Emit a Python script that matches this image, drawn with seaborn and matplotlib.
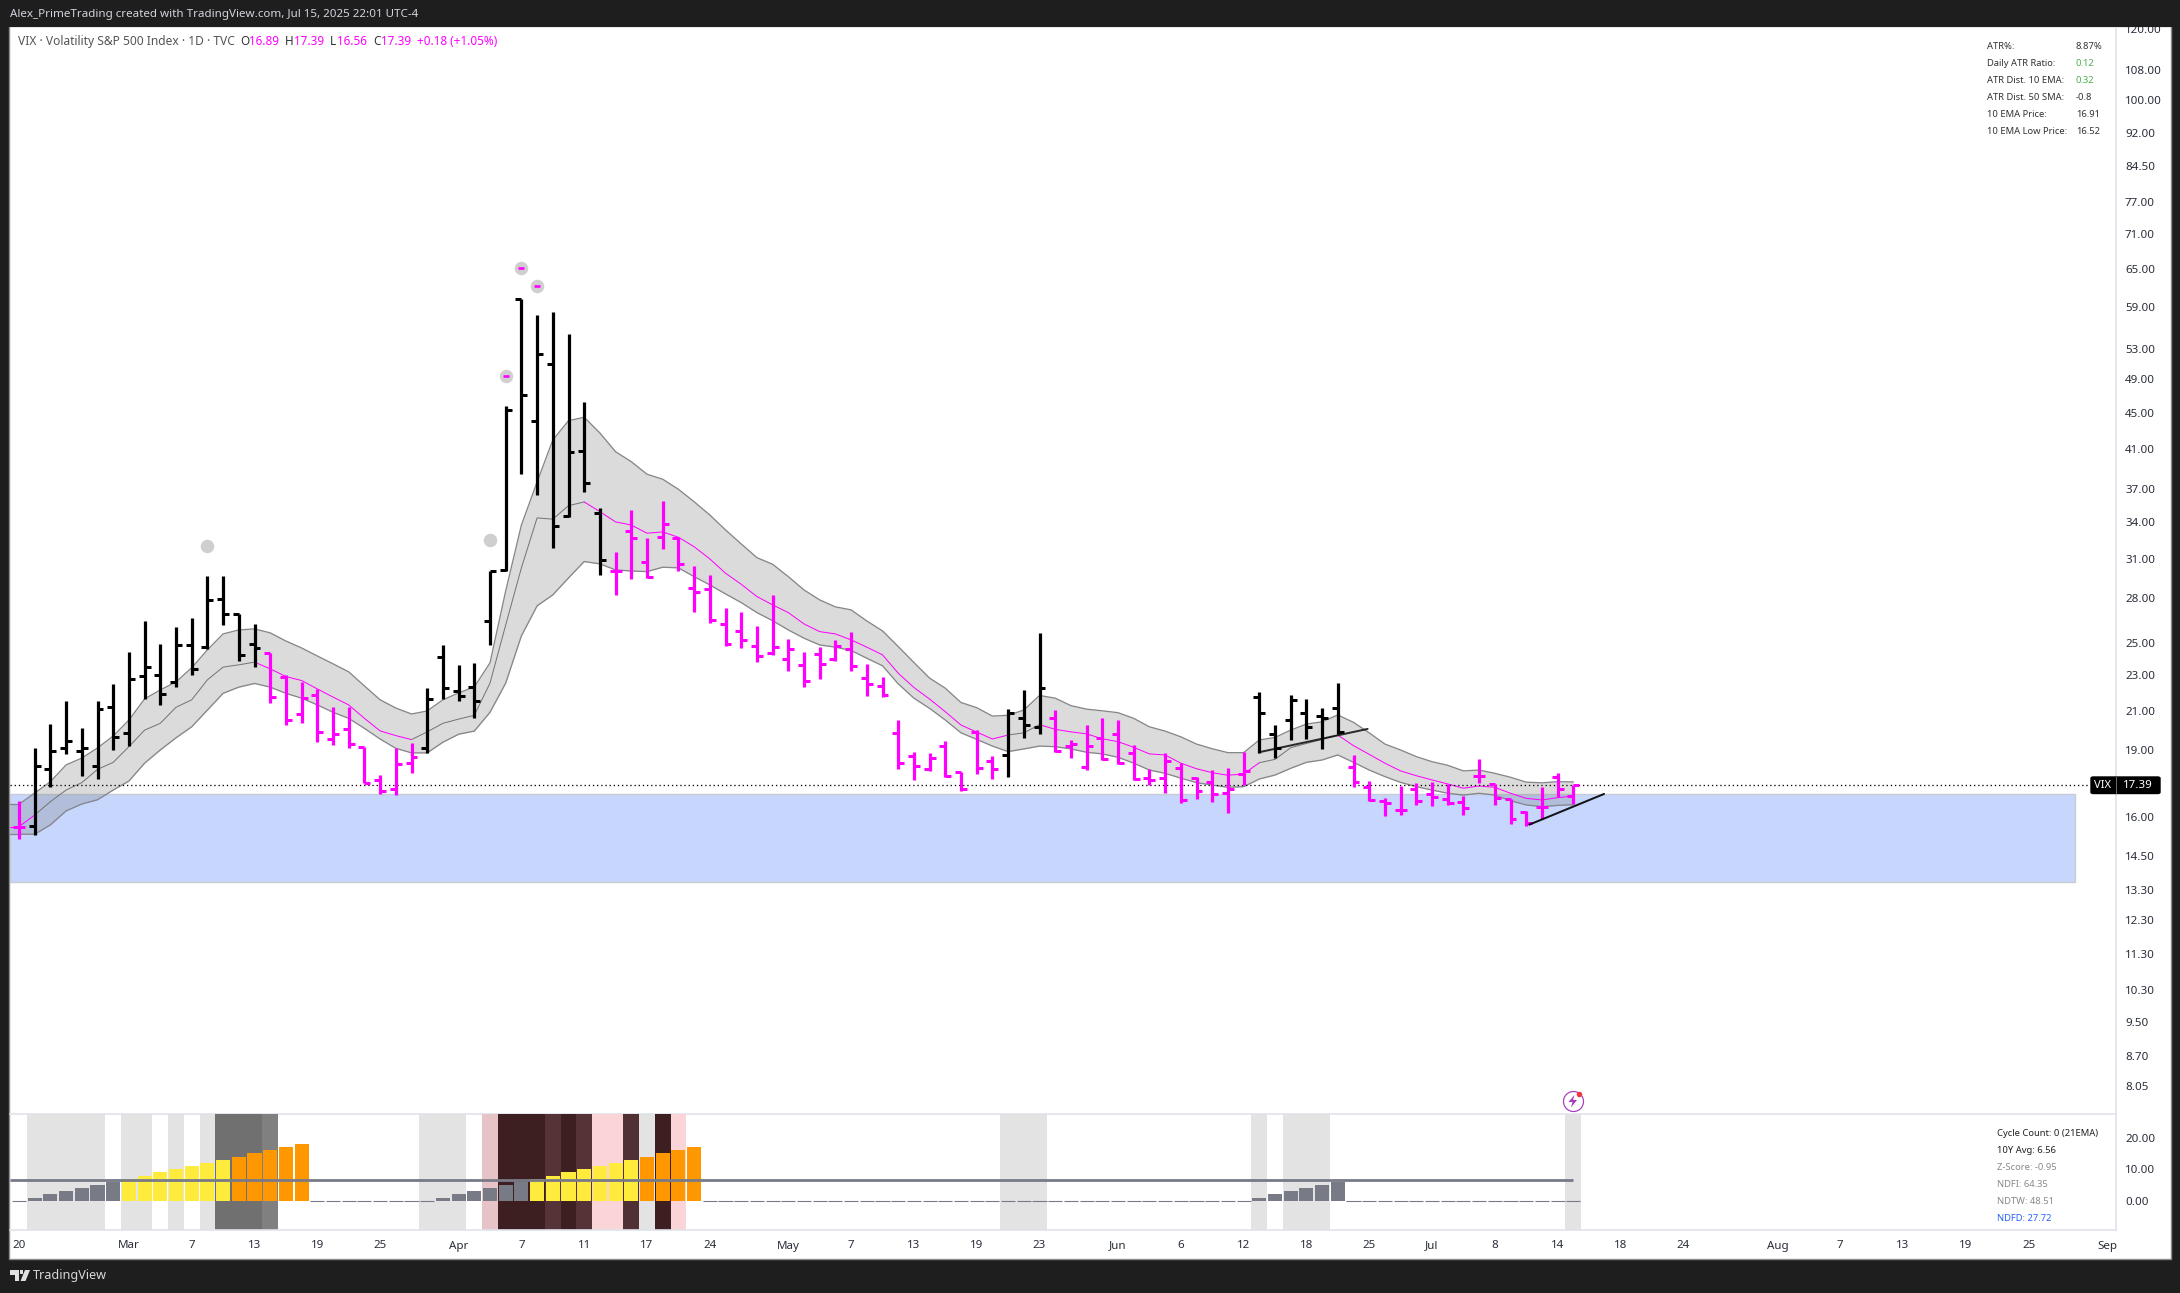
import numpy as np
import pandas as pd
import matplotlib
matplotlib.use("Agg")
import matplotlib.pyplot as plt
import seaborn as sns
from matplotlib.patches import Rectangle, Polygon, FancyBboxPatch
from matplotlib.lines import Line2D
from matplotlib.ticker import NullLocator

# ---------- data ----------
opens = [15.61,15.65,18.09,19.09,18.96,18.23,21.20,19.83,22.96,23.03,22.61,24.86,24.74,27.96,26.93,24.92,24.38,22.89,20.82,21.86,
         19.53,20.04,19.16,17.60,17.22,18.37,19.09,24.09,22.09,22.32,26.43,30.09,60.10,44.01,51.00,34.53,40.77,34.83,30.06,33.24,
         30.76,32.73,32.68,28.73,28.66,26.21,25.75,24.80,24.35,23.97,23.61,24.30,23.97,24.59,22.84,22.41,19.83,18.72,18.09,19.20,
         17.96,19.88,18.47,18.76,20.61,20.14,20.61,19.22,18.21,19.60,19.80,18.85,17.69,17.69,18.14,17.69,17.51,17.02,17.87,21.75,
         19.79,20.50,20.87,20.71,21.14,18.19,17.28,16.68,16.31,17.19,16.97,16.76,16.63,17.79,17.43,16.76,16.23,16.42,17.73,16.89]
highs = [16.69,19.09,20.30,21.54,20.09,21.54,22.51,24.43,26.43,24.92,26.03,26.64,29.65,29.65,26.93,26.23,24.38,23.01,22.64,22.20,
         21.20,21.22,19.16,17.83,19.09,19.33,22.26,24.84,23.63,23.73,30.03,45.77,60.15,57.75,58.19,55.01,46.25,35.27,31.53,35.09,
         32.70,35.91,32.73,30.42,29.72,27.33,27.05,26.10,28.25,25.25,24.43,24.74,25.18,25.70,23.69,22.92,20.52,18.91,18.85,19.45,
         17.98,19.98,18.72,21.10,22.16,25.62,21.05,19.50,20.26,20.62,20.52,19.25,18.11,18.85,18.38,17.76,18.06,18.14,18.91,22.03,
         20.26,21.88,21.66,21.16,22.55,18.77,17.55,16.80,17.34,17.46,17.51,17.43,16.90,18.58,17.43,16.78,16.28,17.29,17.91,17.39]
lows = [15.14,15.28,17.31,18.83,17.79,17.67,19.01,19.20,21.66,21.33,22.35,23.03,24.63,26.16,23.89,23.47,21.46,20.26,20.38,19.42,
        19.25,19.11,17.46,17.00,16.94,17.94,18.87,21.68,21.57,20.64,24.86,30.06,38.50,36.46,31.84,34.45,36.74,29.74,28.25,29.42,
        29.52,31.77,30.03,27.05,26.30,24.81,24.67,23.77,24.22,23.27,22.30,22.80,23.87,23.27,21.83,21.79,18.11,17.61,18.02,17.76,
        17.13,17.88,17.65,17.74,19.60,19.80,18.93,18.62,18.06,18.53,18.35,17.62,17.38,17.03,16.62,16.78,16.65,16.19,17.38,18.87,
        18.62,19.50,19.55,19.06,19.80,17.31,16.68,16.07,16.10,16.52,16.49,16.52,16.12,17.49,16.53,15.75,15.67,15.94,16.84,16.56]
closes = [15.61,18.23,18.96,19.45,19.09,21.10,19.63,22.78,23.49,21.93,24.86,23.37,27.89,26.89,24.24,24.67,21.79,20.50,21.70,19.88,
          19.78,19.29,17.49,17.13,18.33,18.67,21.65,22.26,21.81,21.54,30.03,45.28,47.03,52.32,33.65,40.66,37.57,30.87,30.06,32.65,
          29.60,33.84,30.55,28.45,26.48,24.90,25.16,24.16,24.72,24.59,22.66,23.67,24.78,23.55,22.49,21.86,18.37,18.25,18.61,17.80,
          17.20,18.14,18.09,20.87,20.24,22.26,18.97,19.30,19.20,18.59,18.40,17.67,17.60,18.47,16.74,17.13,16.97,17.22,18.00,20.87,
          19.11,21.61,20.14,20.62,19.88,17.51,16.74,16.59,16.31,16.69,16.84,16.59,16.39,17.79,16.81,15.93,15.77,16.42,17.19,17.39]
bar_black = [0,1,1,1,1,1,1,1,1,1,1,1,1,1,1,1,0,0,0,0,
             0,0,0,0,0,0,1,1,1,1,1,1,1,1,1,1,1,1,0,0,
             0,0,0,0,0,0,0,0,0,0,0,0,0,0,0,0,0,0,0,0,
             0,0,0,1,1,1,0,0,0,0,0,0,0,0,0,0,0,0,0,1,
             1,1,1,1,1,0,0,0,0,0,0,0,0,0,0,0,0,0,0,0]
band_upper = [16.55,17.03,17.53,18.30,18.62,19.11,19.70,20.52,21.66,22.16,22.62,23.45,24.55,25.57,25.83,25.90,25.64,25.11,24.67,24.17,
              23.69,23.21,22.39,21.61,21.16,20.84,21.00,21.61,21.99,22.33,23.75,28.54,33.77,37.70,41.96,44.08,44.47,42.72,40.72,39.70,
              38.45,37.96,37.00,35.84,34.65,33.35,32.18,31.07,30.55,29.60,28.61,27.89,27.40,27.19,26.43,25.77,24.76,23.77,22.84,22.26,
              21.46,21.18,20.73,20.77,21.05,21.85,21.70,21.29,21.10,21.01,20.91,20.61,20.17,19.95,19.66,19.30,19.07,18.88,18.88,19.50,
              19.63,20.00,20.31,20.43,20.79,20.40,19.86,19.30,19.01,18.69,18.45,18.28,18.02,18.06,17.91,17.73,17.51,17.48,17.53,17.52]
band_mid = [15.63,16.10,16.66,17.16,17.49,18.09,18.42,19.17,20.00,20.35,21.20,21.61,22.74,23.49,23.63,23.79,23.39,22.93,22.70,22.22,
            21.76,21.33,20.61,19.96,19.72,19.52,19.91,20.35,20.57,20.77,22.55,26.16,30.27,34.39,34.28,35.48,35.82,34.94,34.04,33.77,
            33.07,33.18,32.73,31.95,30.97,29.86,29.03,28.13,27.54,27.00,26.23,25.72,25.57,25.18,24.72,24.24,23.13,22.30,21.65,20.96,
            20.26,19.90,19.55,19.75,19.86,20.28,20.04,19.91,19.81,19.56,19.42,19.14,18.82,18.77,18.38,18.12,17.94,17.82,17.88,18.40,
            18.56,19.12,19.33,19.53,19.75,19.22,18.80,18.38,18.02,17.80,17.61,17.43,17.24,17.34,17.28,17.02,16.80,16.73,16.83,16.90]
band_lower = [15.33,15.33,15.70,16.27,16.56,16.74,17.16,17.56,18.38,19.01,19.61,20.17,21.05,21.97,22.32,22.53,22.32,21.97,21.70,21.33,
              20.93,20.61,20.09,19.55,19.09,18.87,18.87,19.39,19.79,19.95,20.93,22.55,25.44,27.47,28.25,29.50,30.76,30.58,30.11,30.03,
              29.98,30.32,30.27,29.60,28.98,28.32,27.70,27.00,26.45,25.83,25.29,24.86,24.72,24.51,24.03,23.57,22.51,21.70,21.14,20.52,
              19.86,19.53,19.20,18.93,19.06,19.20,19.17,19.06,18.90,18.82,18.66,18.38,18.06,17.91,17.69,17.49,17.38,17.28,17.31,17.65,
              17.83,18.14,18.42,18.53,18.77,18.42,18.06,17.76,17.50,17.31,17.16,17.02,16.94,17.02,16.94,16.70,16.52,16.45,16.50,16.53]
cycle_counts = [0,1,2,3,4,5,6,7,8,9,10,11,12,13,14,15,16,17,18,0,
                0,0,0,0,0,0,0,1,2,3,4,5,6,7,8,9,10,11,12,13,
                14,15,16,17,0,0,0,0,0,0,0,0,0,0,0,0,0,0,0,0,
                0,0,0,0,0,0,0,0,0,0,0,0,0,0,0,0,0,0,0,1,
                2,3,4,5,6,0,0,0,0,0,0,0,0,0,0,0,0,0,0,0]
avg_10y = 6.56
last_price = 17.39
zone_top, zone_bottom = 16.99, 13.58
circle_idx = [12, 30, 31, 32, 33]
circle_price = [32.02, 32.47, 49.41, 65.05, 62.13]
circle_dash = [0, 0, 1, 1, 1]
trend_a_x, trend_a_y = [78.98, 85.9], [18.90, 20.06]
trend_b_x, trend_b_y = [96.2, 100.96], [15.71, 16.99]
mid_runs = [(0,1,'m'),(1,15,'g'),(15,25,'m'),(25,36,'g'),(36,63,'m'),(63,65,'g'),(65,79,'m'),(79,84,'g'),(84,99,'m')]
spans = [(1,5,'l'),(7,8,'l'),(10,10,'l'),(12,12,'l'),(13,15,'d1'),(16,16,'d2'),
         (26,28,'l'),(30,30,'p1'),(31,33,'r1'),(34,34,'r2'),(35,35,'r1'),(36,36,'r2'),
         (37,38,'p2'),(39,39,'r3'),(40,40,'l'),(41,41,'r1'),(42,42,'p2'),
         (63,65,'l'),(79,79,'l'),(81,83,'l'),(99,99,'l')]
span_colors = {'l':'#e3e3e3','d1':'#707070','d2':'#808080','p1':'#e6c3c6','p2':'#fad4d6',
               'r1':'#3d1e21','r2':'#563336','r3':'#513034'}
price_ticks = [120,108,100,92,84.5,77,71,65,59,53,49,45,41,37,34,31,28,25,23,21,19,16,14.5,13.3,12.3,11.3,10.3,9.5,8.7,8.05]
vol_ticks = [20, 10, 0]
time_ticks = [0,7,11,15,19,23,28,32,36,40,44,49,53,57,61,65,70,74,78,82,86,90,94,98,102,106,112,116,120,124,128,133]
time_labels = ['20','Mar','7','13','19','25','Apr','7','11','17','24','May','7','13','19','23','Jun','6','12','18','25','Jul','8','14','18','24','Aug','7','13','19','25','Sep']
atr_names = ['ATR%:','Daily ATR Ratio:','ATR Dist. 10 EMA:','ATR Dist. 50 SMA:','10 EMA Price:','10 EMA Low Price:']
atr_values = ['8.87%','0.12','0.32','-0.8','16.91','16.52']
cycle_texts = ['Cycle Count: 0 (21EMA)','10Y Avg: 6.56','Z-Score: -0.95','NDFI: 64.35','NDTW: 48.51','NDFD: 27.72']

# ---------- style ----------
W, H = 2180, 1293
sns.set_theme(style="white")
plt.rcParams['font.family'] = ['Noto Sans', 'DejaVu Sans']
DARK = '#1e1e1e'; MAG = '#ff00ff'; GRID = '#e0e3eb'; TXT = '#2a2e39'
def pt(px): return px * 0.72
def fx(x): return x / W
def fy(y): return 1 - y / H
def axrect(x0, y0, x1, y1): return [fx(x0), fy(y1), (x1-x0)/W, (y1-y0)/H]

fig = plt.figure(figsize=(W/100, H/100), dpi=100, facecolor=DARK)
fig.add_artist(Rectangle((fx(9), fy(1259)), (2171-9)/W, (1259-26)/H, transform=fig.transFigure,
                         facecolor='white', edgecolor='#8c8c8c', linewidth=1, zorder=-1))
ax = fig.add_axes(axrect(10, 27, 2116, 1114), facecolor='none')
ax2 = fig.add_axes(axrect(10, 1114, 2116, 1230), facecolor='none')

idx = np.arange(len(closes))
xl, xr = (10-19)/15.7, (2116-19)/15.7

# ---------- price pane ----------
ax.set_yscale('log')
ax.add_patch(Rectangle((xl, zone_bottom), (2075-19)/15.7 - xl, zone_top-zone_bottom,
                       facecolor='#c6d6fc', edgecolor='#c9ccd3', linewidth=1, zorder=1))
ax.fill_between(np.r_[xl, idx], np.r_[band_lower[0], band_lower], np.r_[band_upper[0], band_upper],
                color='#808080', alpha=0.28, linewidth=0, zorder=2)
bands = pd.DataFrame({'i': idx, 'upper': band_upper, 'lower': band_lower, 'mid': band_mid})
for col in ['upper', 'lower']:
    sns.lineplot(data=bands, x='i', y=col, ax=ax, color='#85858c', linewidth=pt(1.3), errorbar=None, zorder=3)
    ax.plot([xl, 0], [bands[col].iloc[0]]*2, color='#85858c', linewidth=pt(1.3), zorder=3)
ax.plot([xl, 0], [band_mid[0]]*2, color=MAG, linewidth=pt(1.0), zorder=3)
for a, b, c in mid_runs:
    sns.lineplot(data=bands.iloc[a:b+1], x='i', y='mid', ax=ax, color=MAG if c == 'm' else '#757575',
                 linewidth=pt(1.0), errorbar=None, zorder=3)
for col_val, col in [(1, 'black'), (0, MAG)]:
    sel = [k for k in idx if bar_black[k] == col_val]
    i = np.array(sel, dtype=float)
    ax.vlines(i, np.take(lows, sel), np.take(highs, sel), color=col, linewidth=pt(3.2), capstyle='butt', zorder=5)
    ax.hlines(np.take(opens, sel), i-0.38, i, color=col, linewidth=pt(3), capstyle='butt', zorder=5)
    ax.hlines(np.take(closes, sel), i, i+0.38, color=col, linewidth=pt(3), capstyle='butt', zorder=5)
marks = pd.DataFrame({'i': circle_idx, 'p': circle_price})
sns.scatterplot(data=marks, x='i', y='p', ax=ax, s=pt(13.5)**2, color='#cfcfcf', linewidth=0, zorder=4)
for k, p, d in zip(circle_idx, circle_price, circle_dash):
    if d:
        ax.hlines(p, k-0.19, k+0.19, color=MAG, linewidth=pt(2.6), capstyle='butt', zorder=6)
ax.plot(trend_a_x, trend_a_y, color='black', alpha=0.8, linewidth=pt(2.0), zorder=7)
ax.plot(trend_b_x, trend_b_y, color='black', alpha=0.9, linewidth=pt(2.0), zorder=7)
ax.plot([xl, (2090-19)/15.7], [last_price, last_price], color='black', linewidth=pt(1.3),
        linestyle=(0, (1, 2.2)), zorder=4)
ax.set_xlim(xl, xr)
ax.set_ylim(21*np.exp((711-1114)/391.5), 21*np.exp((711-27)/391.5))
ax.yaxis.tick_right()
ax.set_yticks(price_ticks)
ax.set_yticklabels([f'{v:.2f}' for v in price_ticks])
ax.yaxis.set_minor_locator(NullLocator())
ax.set_xticks([])
ax.set_xlabel(''); ax.set_ylabel('')
ax.tick_params(axis='y', length=0, pad=pt(9), labelsize=pt(11.6), labelcolor=TXT)
for s in ['left', 'top']:
    ax.spines[s].set_visible(False)
ax.spines['right'].set_color(GRID); ax.spines['right'].set_linewidth(1.2)
ax.spines['bottom'].set_color(GRID); ax.spines['bottom'].set_linewidth(1.2)

# ---------- cycle pane ----------
for a, b, c in spans:
    ax2.axvspan(a-0.5, b+0.5, color=span_colors[c], linewidth=0, zorder=0)
def cycle_class(v):
    return 'gray' if v < 7 else ('yellow' if v < 14 else 'orange')
cyc = pd.DataFrame({'i': idx, 'v': cycle_counts})
cyc['cls'] = cyc['v'].map(cycle_class)
nz = cyc[cyc['v'] > 0]
sns.barplot(data=nz, x='i', y='v', hue='cls', dodge=False, native_scale=True, width=0.9, saturation=1, ax=ax2,
            palette={'gray':'#787b86','yellow':'#ffeb3b','orange':'#ff9800'}, legend=False, zorder=2, linewidth=0)
zero = cyc[cyc['v'] == 0]['i'].to_numpy(dtype=float)
ax2.hlines(np.zeros_like(zero), zero-0.45, zero+0.45, color='#787b86', linewidth=pt(1.1), capstyle='butt', zorder=2)
ax2.hlines(avg_10y, xl, 99, color='#787b86', linewidth=pt(2.8), capstyle='butt', zorder=4)
ax2.set_xlim(xl, xr)
ax2.set_ylim((1200.7-1230)/3.15, (1200.7-1114)/3.15)
ax2.yaxis.tick_right()
ax2.set_yticks(vol_ticks)
ax2.set_yticklabels([f'{v:.2f}' for v in vol_ticks])
ax2.set_xticks(time_ticks)
ax2.set_xticklabels(time_labels)
ax2.set_xlabel(''); ax2.set_ylabel('')
ax2.tick_params(axis='y', length=0, pad=pt(9), labelsize=pt(11.6), labelcolor=TXT)
ax2.tick_params(axis='x', length=0, pad=pt(10.5), labelsize=pt(11.6), labelcolor=TXT)
ax2.spines['left'].set_visible(False); ax2.spines['top'].set_visible(False)
ax2.spines['right'].set_color(GRID); ax2.spines['right'].set_linewidth(1.2)
ax2.spines['bottom'].set_color(GRID); ax2.spines['bottom'].set_linewidth(1.2)

# ---------- overlay furniture ----------
fig.add_artist(Rectangle((0, fy(27)), 1, 27/H, transform=fig.transFigure, facecolor=DARK, edgecolor='none', zorder=5))
def T(x, y, s, px=10, color=TXT, ha='left', **kw):
    fig.text(fx(x), fy(y), s, fontsize=pt(px), color=color, ha=ha, va='center', zorder=8, **kw)
T(10, 14, 'Alex_PrimeTrading created with TradingView.com, Jul 15, 2025 22:01 UTC-4', 11.6, '#d1d4dc')
T(18, 41.7, 'VIX · Volatility S&P 500 Index · 1D · TVC', 12.0, '#555555')
for x, s, c in [(240,'O','#333333'),(249.5,'16.89',MAG),(285,'H','#333333'),(294,'17.39',MAG),
                (330,'L','#333333'),(337,'16.56',MAG),(373,'C','#333333'),(381.5,'17.39',MAG),(417,'+0.18 (+1.05%)',MAG)]:
    T(x, 41.7, s, 11.7, c)
for k, (n, v) in enumerate(zip(atr_names, atr_values)):
    y = 46.5 + k*16.9
    T(1987, y, n, 9.4, '#333333')
    T(2076, y, v, 9.4, '#4caf50' if k in (1, 2) else '#333333')
cycle_cols = ['#222222','#222222','#8a8a8a','#8a8a8a','#8a8a8a','#2962ff']
for k, (s, c) in enumerate(zip(cycle_texts, cycle_cols)):
    T(1997, 1133.7 + k*17, s, 9.4, c)

# last price label
fig.add_artist(FancyBboxPatch((fx(2091), fy(793.5)), (2160-2091)/W, 16.5/H, boxstyle='round,pad=0,rounding_size=0.001',
                              transform=fig.transFigure, facecolor='black', edgecolor='black', linewidth=1, zorder=6))
fig.add_artist(Rectangle((fx(2115.6), fy(794)), 1/W, 17/H, transform=fig.transFigure, facecolor='#666666', edgecolor='none', zorder=7))
T(2103, 785.3, 'VIX', 11.2, 'white', ha='center', fontweight='bold')
T(2138, 785.3, f'{last_price:.2f}', 11.6, 'white', ha='center', fontweight='bold')

# TradingView mark and name
def P(pts, color):
    fig.add_artist(Polygon([(fx(x), fy(y)) for x, y in pts], closed=True, transform=fig.transFigure,
                           facecolor=color, edgecolor='none', zorder=8))
P([(10,1270),(19,1270),(19,1281),(14.5,1281),(14.5,1274.5),(10,1274.5)], '#e0e0e0')
P([(25,1270),(30,1270),(25.5,1281),(20.5,1281)], '#e0e0e0')
P([(20,1270),(23,1270),(23,1273.5),(20,1273.5)], '#e0e0e0')
T(33, 1275, 'TradingView', 12.6, '#d8d8d8')

# alert icon
fig.add_artist(Line2D([fx(1572.7)], [fy(1101)], marker='o', markersize=pt(20), markerfacecolor='none',
                      markeredgecolor='#a63cc0', markeredgewidth=pt(1.2), transform=fig.transFigure, zorder=8))
P([(1574.5,1095),(1568.5,1102),(1572.5,1102),(1571,1107.5),(1577,1100),(1573,1100)], '#a63cc0')
fig.add_artist(Line2D([fx(1579.3)], [fy(1094.3)], marker='o', markersize=pt(5.5), markerfacecolor='#f23645',
                      markeredgecolor='none', transform=fig.transFigure, zorder=9))

fig.savefig('out.png', dpi=100, facecolor=DARK)
